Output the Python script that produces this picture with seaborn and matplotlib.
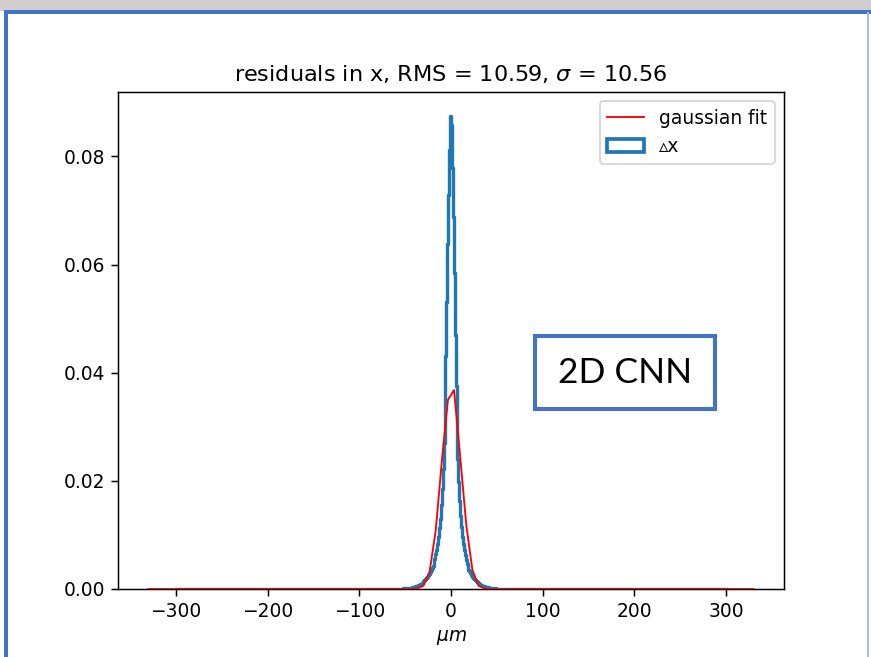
import matplotlib
matplotlib.use("Agg")
import matplotlib.pyplot as plt
import seaborn as sns
from matplotlib.lines import Line2D
from matplotlib.patches import Patch, Rectangle

# histogram of residuals (density per 1 um bin)
# bins left of zero, ordered from [-60,-59] up to [-1,0]
left_density = [
    0.00004, 0.00005, 0.00004, 0.00006, 0.00007, 0.00006, 0.00008, 0.00009, 0.00010, 0.00012,
    0.00011, 0.00014, 0.00016, 0.00018, 0.00020, 0.00023, 0.00026, 0.00030, 0.00034, 0.00038,
    0.00043, 0.00050, 0.00056, 0.00063, 0.00070, 0.00079, 0.00088, 0.00100, 0.00110, 0.00125,
    0.00140, 0.00160, 0.00178, 0.00200, 0.00220, 0.00250, 0.00280, 0.00320, 0.00350, 0.00380,
    0.00430, 0.00490, 0.00560, 0.00640, 0.00730, 0.00840, 0.00970, 0.01120, 0.01300, 0.01550,
    0.01850, 0.02220, 0.02700, 0.03450, 0.04300, 0.05300, 0.06380, 0.07280, 0.08120, 0.08750,
]
# bins right of zero, ordered from [0,1] up to [59,60]
right_density = [
    0.08580, 0.07790, 0.06880, 0.05850, 0.04700, 0.03750, 0.03000, 0.02400, 0.01980, 0.01630,
    0.01350, 0.01140, 0.00970, 0.00830, 0.00720, 0.00620, 0.00540, 0.00470, 0.00410, 0.00360,
    0.00330, 0.00300, 0.00260, 0.00230, 0.00200, 0.00180, 0.00160, 0.00140, 0.00125, 0.00110,
    0.00098, 0.00087, 0.00077, 0.00068, 0.00060, 0.00053, 0.00047, 0.00041, 0.00036, 0.00032,
    0.00028, 0.00025, 0.00022, 0.00019, 0.00017, 0.00015, 0.00013, 0.00012, 0.00010, 0.00009,
    0.00008, 0.00007, 0.00007, 0.00006, 0.00005, 0.00005, 0.00004, 0.00004, 0.00003, 0.00003,
]
tail_density = 0.00002  # outer bins -300..-60 and 60..300

# gaussian fit curve as drawn (sampled points)
fit_x = [-330.0, -43.33, -36.67, -30.0, -23.33, -16.67, -10.0, -3.33,
         3.33, 10.0, 16.67, 23.33, 30.0, 36.67, 43.33, 330.0]
fit_y = [0.0, 0.0, 0.0001, 0.0006, 0.0032, 0.0108, 0.0236, 0.0350,
         0.0368, 0.0245, 0.0118, 0.0035, 0.0006, 0.0001, 0.0, 0.0]

title = r"residuals in x, RMS = 10.59, $\sigma$ = 10.56"
hist_label = "\u25b5x"
fit_label = "gaussian fit"
note_text = "2D CNN"

W, H = 871, 657
fig = plt.figure(figsize=(W / 134, H / 134), dpi=134)
fig.patch.set_facecolor("white")

# slide decorations around the plot
fig.patches.append(Rectangle((0, 1 - 11 / H), 1, 11 / H, transform=fig.transFigure,
                             facecolor="#d0cece", edgecolor="none", zorder=0))
fig.patches.append(Rectangle((4 / W, 0), 4 / W, 1 - 10 / H, transform=fig.transFigure,
                             facecolor="#4472c4", edgecolor="none", zorder=0))
fig.patches.append(Rectangle((4 / W, 1 - 14 / H), 1, 4 / H, transform=fig.transFigure,
                             facecolor="#4472c4", edgecolor="none", zorder=0))
fig.patches.append(Rectangle((867 / W, 0), 2 / W, 1 - 12 / H, transform=fig.transFigure,
                             facecolor="#a9c0e8", edgecolor="none", zorder=0))

ax = fig.add_axes([118 / W, 1 - 589 / H, (784 - 118) / W, (589 - 92) / H])

edges = [-300] + list(range(-60, 61)) + [300]
weights = [tail_density] + left_density + right_density + [tail_density]
centers = [(a + b) / 2 for a, b in zip(edges[:-1], edges[1:])]

sns.histplot(x=centers, weights=weights, bins=edges, element="step", fill=False,
             color="#1f77b4", linewidth=1.8, ax=ax)
sns.lineplot(x=fit_x, y=fit_y, color="red", linewidth=1, ax=ax, zorder=3)

ax.set_xlim(-363, 363)
ax.set_ylim(0, 0.0919)
ax.set_xticks([-300, -200, -100, 0, 100, 200, 300])
ax.set_yticks([0.0, 0.02, 0.04, 0.06, 0.08])
ax.set_title(title, fontsize=12)
ax.set_xlabel(r"$\mu m$", fontsize=10)
ax.set_ylabel("")

handles = [Line2D([0], [0], color="red", linewidth=1),
           Patch(facecolor="none", edgecolor="#1f77b4", linewidth=2)]
ax.legend(handles, [fit_label, hist_label], loc="upper right")

# boxed note from the slide
fig.patches.append(Rectangle((535 / W, 1 - 409 / H), 180 / W, 73 / H, transform=fig.transFigure,
                             facecolor="white", edgecolor="#4472c4", linewidth=2.2, zorder=5))
fig.text(625 / W, 1 - 373 / H, note_text, ha="center", va="center",
         fontsize=19, family=["Lato", "DejaVu Sans"], color="black", zorder=6)

fig.savefig("out.png", dpi=134)
